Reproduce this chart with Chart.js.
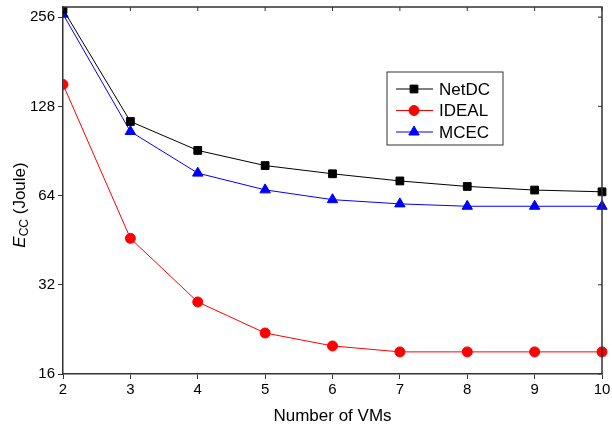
<!DOCTYPE html>
<html lang="en">
<head>
    <meta charset="UTF-8">
    <title>Ecc vs number of VMs</title>
    <script src="https://cdn.jsdelivr.net/npm/chart.js@4.4.1/dist/chart.umd.min.js"></script>
    <style>
        html, body { margin: 0; padding: 0; background: #fff; }
        #wrap { width: 612px; height: 431px; }
    </style>
</head>
<body>
    <div id="wrap"><canvas id="grafico"></canvas></div>
    <script>
        // datos
        const vms = [2, 3, 4, 5, 6, 7, 8, 9, 10];
        const netdc = [272, 113.8, 90.9, 80.8, 75.8, 71.7, 68.7, 66.8, 65.9];
        const ideal = [151.8, 45.9, 28.0, 22.0, 19.9, 19.0, 19.0, 19.0, 19.0];
        const mcec = [262, 105.3, 76.2, 66.9, 62.0, 60.0, 58.9, 58.9, 58.9];
        const yTicks = [16, 32, 64, 128, 256];
        const FONT = "'Liberation Sans', Arial, sans-serif";

        const toPoints = arr => arr.map((v, i) => ({ x: vms[i], y: v }));

        // caja, marcas interiores arriba/derecha, titulo del eje y y leyenda
        const extras = {
            id: 'extras',
            afterDraw(chart) {
                const ctx = chart.ctx;
                const a = chart.chartArea;
                const xs = chart.scales.x, ys = chart.scales.y;
                ctx.save();
                ctx.strokeStyle = '#333';
                ctx.lineWidth = 1.5;
                ctx.beginPath();
                ctx.moveTo(a.left, a.top); ctx.lineTo(a.right, a.top); ctx.lineTo(a.right, a.bottom);
                ctx.stroke();
                ctx.lineWidth = 1;
                ctx.beginPath();
                vms.forEach(v => {
                    const px = xs.getPixelForValue(v);
                    ctx.moveTo(px, a.top); ctx.lineTo(px, a.top + 4);
                });
                yTicks.forEach(v => {
                    const py = ys.getPixelForValue(v);
                    ctx.moveTo(a.right, py); ctx.lineTo(a.right - 4, py);
                });
                ctx.stroke();

                // titulo eje y: E_CC (Joule)
                ctx.translate(20, 205);
                ctx.rotate(-Math.PI / 2);
                ctx.fillStyle = '#000';
                ctx.textBaseline = 'middle';
                ctx.font = 'italic 17px ' + FONT;
                const wE = ctx.measureText('E').width;
                ctx.font = '12px ' + FONT;
                const wCC = ctx.measureText('CC').width;
                ctx.font = '17px ' + FONT;
                const wJ = ctx.measureText(' (Joule)').width;
                let x0 = -(wE + wCC + wJ) / 2;
                ctx.font = 'italic 17px ' + FONT;
                ctx.fillText('E', x0, 0);
                ctx.font = '12px ' + FONT;
                ctx.fillText('CC', x0 + wE, 5);
                ctx.font = '17px ' + FONT;
                ctx.fillText(' (Joule)', x0 + wE + wCC, 0);
                ctx.restore();

                // leyenda estilo Origin
                ctx.save();
                const lx = 387, ly = 72, lw = 116, lh = 73;
                ctx.strokeStyle = '#333';
                ctx.lineWidth = 1;
                ctx.strokeRect(lx, ly, lw, lh);
                ctx.font = '17px ' + FONT;
                ctx.textBaseline = 'middle';
                chart.data.datasets.forEach((ds, i) => {
                    const cy = ly + 17 + i * 21.5;
                    ctx.strokeStyle = ds.borderColor;
                    ctx.fillStyle = ds.backgroundColor;
                    ctx.lineWidth = 1;
                    ctx.beginPath();
                    ctx.moveTo(lx + 9, cy); ctx.lineTo(lx + 46, cy);
                    ctx.stroke();
                    Chart.helpers.drawPoint(ctx, {
                        pointStyle: ds.pointStyle, radius: ds.pointRadius, borderWidth: 1
                    }, lx + 27, cy);
                    ctx.fillStyle = '#000';
                    ctx.fillText(ds.label, lx + 52, cy + 1);
                });
                ctx.restore();
            }
        };

        const mk = (label, color, style, data, r) => ({
            label: label,
            data: toPoints(data),
            borderColor: color,
            backgroundColor: color,
            pointStyle: style,
            pointRadius: r,
            pointBorderWidth: 1,
            borderWidth: 1,
            tension: 0
        });

        const ctx = document.getElementById('grafico').getContext('2d');
        const graficos = new Chart(ctx, {
            type: 'line',
            data: {
                datasets: [
                    mk('NetDC', '#000000', 'rect', netdc, 5.5),
                    mk('IDEAL', '#ff0000', 'circle', ideal, 5),
                    mk('MCEC', '#0000ff', 'triangle', mcec, 6)
                ]
            },
            plugins: [extras],
            options: {
                responsive: true,
                maintainAspectRatio: false,
                animation: false,
                clip: { left: 0, top: 0, right: 6, bottom: 0 },
                layout: { padding: { left: 0, top: 0, right: 10, bottom: 0 } },
                plugins: {
                    legend: { display: false },
                    tooltip: { enabled: false }
                },
                scales: {
                    x: {
                        type: 'linear',
                        min: 2,
                        max: 10,
                        afterFit(s) { s.height = 57; s.paddingLeft = 0; s.paddingRight = 0; },
                        afterBuildTicks(s) { s.ticks = vms.map(v => ({ value: v })); },
                        grid: { drawOnChartArea: false, drawTicks: true, tickLength: 5, color: '#333', tickWidth: 1 },
                        border: { color: '#333', width: 1.5 },
                        ticks: { color: '#000', font: { family: FONT, size: 15 }, padding: 2, maxRotation: 0 },
                        title: { display: true, text: 'Number of VMs', color: '#000', font: { family: FONT, size: 17 }, padding: { top: 0 } }
                    },
                    y: {
                        type: 'logarithmic',
                        min: 16,
                        max: 277,
                        afterFit(s) { s.width = 63; s.paddingTop = 0; s.paddingBottom = 0; },
                        afterBuildTicks(s) { s.ticks = yTicks.map(v => ({ value: v })); },
                        grid: { drawOnChartArea: false, drawTicks: true, tickLength: 5, color: '#333', tickWidth: 1 },
                        border: { color: '#333', width: 1.5 },
                        ticks: {
                            color: '#000',
                            font: { family: FONT, size: 15 },
                            padding: 3,
                            callback: v => String(v)
                        }
                    }
                }
            }
        });
    </script>
</body>
</html>
